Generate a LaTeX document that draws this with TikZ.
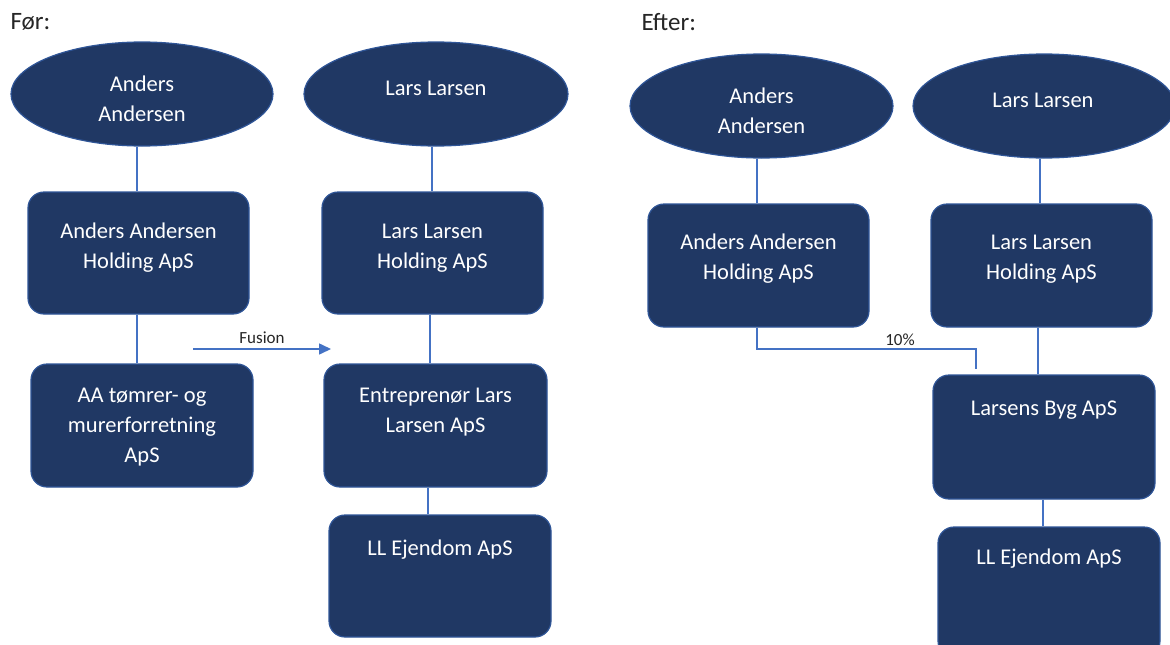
\documentclass[tikz,border=0pt]{standalone}
\usepackage{fontspec}
\setmainfont{Carlito}
\usetikzlibrary{shapes.geometric,arrows.meta}
\definecolor{navy}{HTML}{203864}
\definecolor{rim}{HTML}{2F5597}
\definecolor{link}{HTML}{4472C4}
\tikzset{
  owner/.style={ellipse, fill=navy, draw=rim, line width=1.2pt, inner sep=0pt},
  company/.style={rectangle, rounded corners=16pt, fill=navy, draw=rim, line width=1.2pt, inner sep=0pt},
  boxtext/.style={text=white, font=\fontsize{22.5}{30}\selectfont, align=center, anchor=center, yshift=-2pt},
  conn/.style={draw=link, line width=2.2pt},
  heading/.style={font=\fontsize{25}{28}\selectfont, anchor=west, text=black!85},
  small/.style={font=\fontsize{17}{19}\selectfont, text=black!85},
}
\begin{document}
\begin{tikzpicture}[x=1pt,y=-1pt]
\useasboundingbox (0,0) rectangle (1170,645);
\fill[white] (0,0) rectangle (1170,645);

% ---------- left: before the merger ----------
\node[heading] (hb) at (7,22) {Før:};

\node[owner, minimum width=262pt, minimum height=104pt] (aa) at (142,94) {};
\node[boxtext] at (142,97) {Anders\\Andersen};
\node[owner, minimum width=264pt, minimum height=104pt] (ll) at (436,94) {};
\node[boxtext] at (436,86) {Lars Larsen};

\node[company, minimum width=221pt, minimum height=122pt] (aah) at (138.5,253) {};
\node[boxtext] at (138.5,246) {Anders Andersen\\Holding ApS};
\node[company, minimum width=221pt, minimum height=122pt] (llh) at (432.5,253) {};
\node[boxtext] at (432.5,246) {Lars Larsen\\Holding ApS};

\node[company, minimum width=222pt, minimum height=123pt] (aat) at (142,425.5) {};
\node[boxtext] at (142,425) {AA tømrer- og\\murerforretning\\ApS};
\node[company, minimum width=223pt, minimum height=123pt] (ent) at (435.5,425.5) {};
\node[boxtext] at (435.5,410) {Entreprenør Lars\\Larsen ApS};

\node[company, minimum width=222pt, minimum height=122pt] (lle) at (440,576) {};
\node[boxtext] at (440,548) {LL Ejendom ApS};

\draw[conn] (aa.south -| 137,0) -- (aah.north -| 137,0);
\draw[conn] (aah.south -| 137,0) -- (aat.north -| 137,0);
\draw[conn] (ll.south -| 432,0) -- (llh.north -| 432,0);
\draw[conn] (llh.south -| 430,0) -- (ent.north -| 430,0);
\draw[conn] (ent.south -| 428,0) -- (lle.north -| 428,0);

\coordinate (fs) at (193,349);
\coordinate (fe) at (331,349);
\draw[draw=link, line width=1.6pt, -{Triangle[length=12pt,width=11pt]}] (fs) -- (fe)
  node[small, midway, above=1pt] {Fusion};

% ---------- right: after the merger ----------
\node[heading] (ha) at (638,22) {Efter:};

\node[owner, minimum width=263pt, minimum height=104pt] (aa2) at (761.5,106) {};
\node[boxtext] at (761.5,109) {Anders\\Andersen};
\node[owner, minimum width=262pt, minimum height=104pt] (ll2) at (1044,106) {};
\node[boxtext] at (1043,98) {Lars Larsen};

\node[company, minimum width=221pt, minimum height=123pt] (aah2) at (758.5,265.5) {};
\node[boxtext] at (758.5,257) {Anders Andersen\\Holding ApS};
\node[company, minimum width=221pt, minimum height=123pt] (llh2) at (1041.5,265.5) {};
\node[boxtext] at (1041.5,257) {Lars Larsen\\Holding ApS};

\node[company, minimum width=222pt, minimum height=124pt] (byg) at (1044,437) {};
\node[boxtext] at (1044,408) {Larsens Byg ApS};

\node[company, minimum width=222pt, minimum height=130pt] (lle2) at (1049,592) {};
\node[boxtext] at (1049,557) {LL Ejendom ApS};

\draw[conn] (aa2.south -| 757,0) -- (aah2.north -| 757,0);
\draw[conn] (ll2.south -| 1040,0) -- (llh2.north -| 1040,0);
\draw[conn] (llh2.south -| 1038,0) -- (byg.north -| 1038,0);
\draw[conn] (byg.south -| 1043,0) -- (lle2.north -| 1043,0);

\coordinate (pe) at (976,369);
\draw[draw=link, line width=1.8pt] (aah2.south -| 757,0) |- (976,349) -- (pe);
\node[small] (pct) at (900,340) {10\%};
\end{tikzpicture}
\end{document}
